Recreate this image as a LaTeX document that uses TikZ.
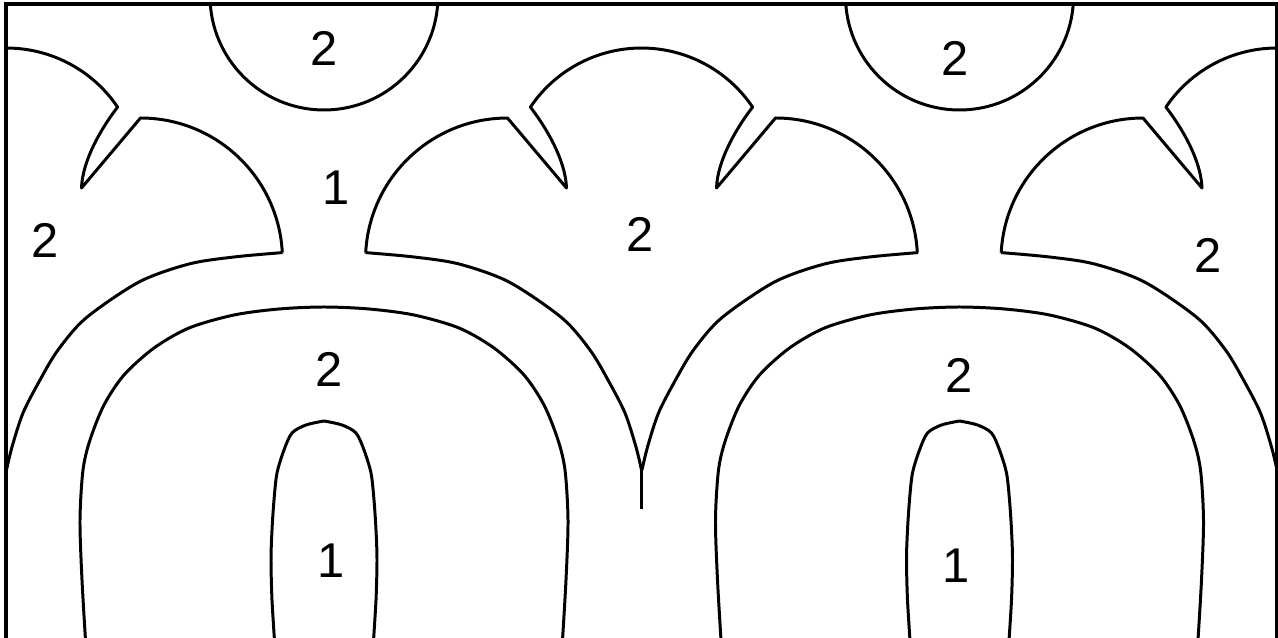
\documentclass[tikz,border=0pt]{standalone}
\usepackage{fontspec}
\setmainfont{Liberation Sans}

\begin{document}
\begin{tikzpicture}[x=0.02cm,y=0.02cm,
    curve/.style={line width=1.7pt, line join=round},
    frame/.style={line width=2pt},
    lbl/.style={font=\fontsize{27.8}{32}\selectfont, inner sep=0pt}]
    \useasboundingbox (0,0) rectangle (1278,638);

    % Кути рамки
    \coordinate (FL) at (6,-20);
    \coordinate (TL) at (6,634);
    \coordinate (TR) at (1276.5,634);
    \coordinate (FR) at (1276.5,-20);

    \begin{scope}
    \clip (FL) rectangle (TR);

    % Півкола біля верхнього краю
    \foreach \cx in {324,959.5}
        \draw[curve] (\cx,642) circle[radius=114];

    % Груші: внутрішній овал, середня петля, зовнішня арка
    \foreach \cx in {324,959.5} {
    \begin{scope}[shift={(\cx,0)}]
        \draw[curve] plot[smooth] coordinates {(-49,-10) (-52,38) (-53,78) (-52,108) (-50,138) (-47,165) (-40,188) (-32,205) (-18,213) (0,217)}
            -- plot[smooth] coordinates {(0,217) (18,213) (32,205) (40,188) (47,165) (50,138) (52,108) (53,78) (52,38) (49,-10)};
        \draw[curve] plot[smooth] coordinates {(-238,-10) (-242,58) (-244,118) (-241,168) (-234,198) (-220,233) (-200,263) (-170,290) (-135,310) (-90,323) (-45,329) (0,331)
            (45,329) (90,323) (135,310) (170,290) (200,263) (220,233) (234,198) (241,168) (244,118) (242,58) (238,-10)};
        \draw[curve] plot[smooth] coordinates {(-41.5,385.4) (-90,381) (-135,374) (-185,356) (-238,320) (-266,288) (-284,258) (-301,225) (-312,191) (-317.5,168)};
        \draw[curve] plot[smooth] coordinates {(41.5,385.4) (90,381) (135,374) (185,356) (238,320) (266,288) (284,258) (301,225) (312,191) (317.5,168)};
    \end{scope}
    }

    % Корони між грушами
    \foreach \kx in {6.5,641.5,1277} {
    \begin{scope}[shift={(\kx,0)}]
        \draw[curve] (-275.8,385.4) arc[start angle=177, end angle=90, radius=142]
            -- (-75,450) .. controls (-76,478) and (-95,510) .. (-111.1,530.9)
            arc[start angle=146, end angle=34, radius=134]
            .. controls (95,510) and (76,478) .. (75,450)
            -- (134,520) arc[start angle=90, end angle=3, radius=142];
        \draw[curve] (0,168) -- (0,129);
    \end{scope}
    }
    \end{scope}

    % Рамка
    \draw[frame] (FL) -- (TL) -- (TR) -- (FR);

    % Підписи
    \node[lbl] (s1) at (324.5,590) {2};
    \node[lbl] (s2) at (955,580) {2};
    \node[lbl] (ch) at (336,450) {1};
    \node[lbl] (w1) at (45.5,397.5) {2};
    \node[lbl] (w2) at (640,403.5) {2};
    \node[lbl] (w3) at (1208,382.5) {2};
    \node[lbl] (p1) at (329.5,269) {2};
    \node[lbl] (p2) at (959,263) {2};
    \node[lbl] (c1) at (331,77) {1};
    \node[lbl] (c2) at (956.5,72) {1};
\end{tikzpicture}
\end{document}
